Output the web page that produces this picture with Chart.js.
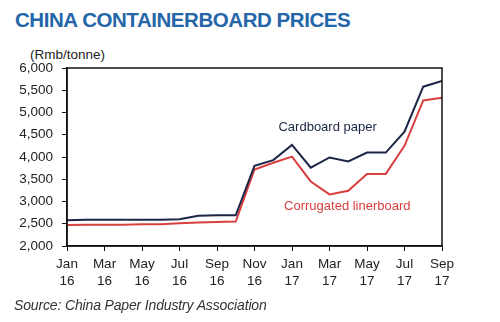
<!DOCTYPE html>
<html>
<head>
<meta charset="utf-8">
<script src="https://cdn.jsdelivr.net/npm/chart.js@4"></script>
<style>
  body { margin: 0; background: #fff; }
  #wrap { position: relative; width: 500px; height: 322px; font-family: "Liberation Sans", Arial, sans-serif; }
  #title { position: absolute; left: 15px; top: 8px; font-size: 20.5px; font-weight: bold; color: #2466a8; letter-spacing: -0.45px; }
  #unit { position: absolute; left: 30px; top: 47px; font-size: 13.5px; color: #222; }
  #source { position: absolute; left: 14px; top: 297px; font-size: 14px; font-style: italic; color: #333; letter-spacing: -0.15px; }
  canvas { position: absolute; left: 0; top: 0; }
</style>
</head>
<body>
<div id="wrap">
  <div id="title">CHINA CONTAINERBOARD PRICES</div>
  <div id="unit">(Rmb/tonne)</div>
  <canvas id="prices" width="500" height="322"></canvas>
  <div id="source">Source: China Paper Industry Association</div>
</div>
<script>
var months = ['Jan 16','Feb 16','Mar 16','Apr 16','May 16','Jun 16','Jul 16','Aug 16','Sep 16','Oct 16','Nov 16','Dec 16',
              'Jan 17','Feb 17','Mar 17','Apr 17','May 17','Jun 17','Jul 17','Aug 17','Sep 17'];
var cardboard = [2580,2590,2590,2590,2590,2590,2600,2680,2690,2690,3800,3930,4270,3760,3990,3900,4100,4100,4570,5580,5710];
var linerboard = [2470,2480,2480,2480,2490,2490,2510,2530,2540,2550,3720,3870,4010,3450,3160,3240,3620,3620,4250,5270,5330];
var yTicks = [2000,2500,3000,3500,4000,4500,5000,5500,6000];

function points(arr) {
  var out = [];
  for (var i in arr) out.push({x: Number(i), y: arr[i]});
  return out;
}

// frame around plot + in-chart series labels
var framePlugin = {
  id: 'frame',
  afterDraw: function(chart) {
    var a = chart.chartArea, c = chart.ctx, xs = chart.scales.x, ys = chart.scales.y;
    c.save();
    c.strokeStyle = '#111';
    c.lineWidth = 1.5;
    c.strokeRect(a.left, a.top, a.right - a.left, a.bottom - a.top);
    c.font = '13px "Liberation Sans", Arial, sans-serif';
    c.textAlign = 'center';
    c.textBaseline = 'middle';
    c.fillStyle = '#1c2545';
    c.fillText('Cardboard paper', xs.getPixelForValue(13.9), ys.getPixelForValue(4674));
    c.fillStyle = '#d8403f';
    c.fillText('Corrugated linerboard', xs.getPixelForValue(14.95), ys.getPixelForValue(2900));
    c.restore();
  }
};

var ctx = document.getElementById('prices');
new Chart(ctx, {
  type: 'line',
  data: {
    datasets: [
      { label: 'Cardboard paper', data: points(cardboard), borderColor: '#1c2545', borderWidth: 2, pointRadius: 0, tension: 0 },
      { label: 'Corrugated linerboard', data: points(linerboard), borderColor: '#d8403f', borderWidth: 2, pointRadius: 0, tension: 0 }
    ]
  },
  options: {
    responsive: false,
    animation: false,
    layout: { padding: { left: 0, top: 68, right: 58, bottom: 34 } },
    plugins: { legend: { display: false }, tooltip: { enabled: false } },
    scales: {
      x: {
        type: 'linear', min: 0, max: 20,
        afterFit: function(s) { s.height = 42; },
        grid: { drawOnChartArea: false, tickLength: 5, color: '#111' },
        border: { color: '#111', width: 1.5 },
        ticks: {
          stepSize: 2, autoSkip: false, padding: 5,
          color: '#222', font: { family: '"Liberation Sans", Arial, sans-serif', size: 13.5, lineHeight: 1.25 },
          callback: function(v) { return months[v] ? months[v].split(' ') : ''; }
        }
      },
      y: {
        min: 2000, max: 6000,
        afterFit: function(s) { s.width = 67; },
        afterBuildTicks: function(s) { s.ticks = yTicks.map(function(v) { return {value: v}; }); },
        grid: { drawOnChartArea: false, tickLength: 5, color: '#111' },
        border: { color: '#111', width: 1.5 },
        ticks: {
          padding: 9, color: '#222', font: { family: '"Liberation Sans", Arial, sans-serif', size: 13.5 },
          callback: function(v) { return v.toLocaleString('en-US'); }
        }
      }
    }
  },
  plugins: [framePlugin]
});
</script>
</body>
</html>
